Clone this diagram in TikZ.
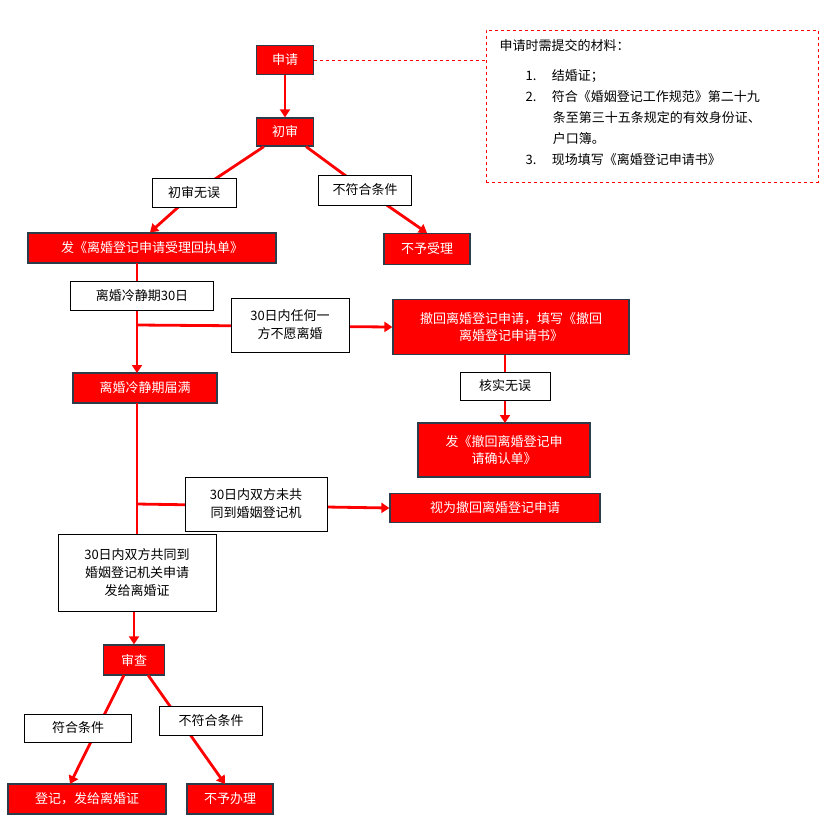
\documentclass[tikz,border=0pt]{standalone}
\usepackage{fontspec}
\setmainfont{Noto Sans CJK SC}
\usetikzlibrary{arrows.meta}
\definecolor{rd}{RGB}{255,0,0}
\definecolor{bd}{RGB}{45,60,75}
\begin{document}
\begin{tikzpicture}[x=1pt,y=-1pt,
 rb/.style={draw=bd,line width=1.2pt,fill=rd,text=white,font=\fontsize{13}{17}\selectfont,inner sep=0pt,align=center},
 wb/.style={draw=black,line width=0.8pt,fill=white,font=\fontsize{13}{18}\selectfont,inner sep=0pt,align=center},
 ln/.style={draw=rd,line width=2.8pt},
 ar/.style={ln,-{Triangle[length=8pt,width=10pt]}}]
\useasboundingbox (0,0) rectangle (827,823);
\node[rb,minimum width=57,minimum height=29] (sq) at (285,60) {申请};
\node[rb,minimum width=57,minimum height=28] (cs) at (285,132) {初审};
\node[rb,minimum width=248,minimum height=30] (hz) at (152,248) {发《离婚登记申请受理回执单》};
\node[rb,minimum width=86,minimum height=31] (bysl) at (427,249) {不予受理};
\node[draw=rd,dashed,line width=1pt,minimum width=332,minimum height=152] (mat) at (652,106) {};
\node[anchor=north west,font=\fontsize{13}{16}\selectfont,align=left] (mt) at (496,36) {申请时需提交的材料：};
\node[anchor=north west,font=\fontsize{13}{21}\selectfont,align=left] (ml) at (522,66) {%
1.\hspace{1.2em}结婚证；\\
2.\hspace{1.2em}符合《婚姻登记工作规范》第二十九\\
\hspace*{2.1em}条至第三十五条规定的有效身份证、\\
\hspace*{2.1em}户口簿。\\
3.\hspace{1.2em}现场填写《离婚登记申请书》};
\draw[draw=rd,dashed,line width=1pt] (sq.east) -- (mat.west |- sq.east);
\draw[ar] (sq.south) -- (cs.north);
\draw[ln] (cs.south west) ++(8,0) coordinate (c1) -- (194,193);
\draw[ar] (194,193) -- (hz.north -| 150,0);
\draw[ln] (cs.south east) ++(-8,0) coordinate (c2) -- (365,190);
\draw[ar] (365,190) -- (bysl.north);
\node[wb,minimum width=84,minimum height=29] (wu) at (194,193) {初审无误};
\node[wb,minimum width=93,minimum height=30] (bf) at (365,190) {不符合条件};
\coordinate (s0) at (137,263);
\node[rb,minimum width=144,minimum height=30] (jm) at (145,388) {离婚冷静期届满};
\draw[ar] (s0) -- (137,373);
\node[wb,minimum width=143,minimum height=29] (lj) at (142,296) {离婚冷静期30日};
\node[rb,minimum width=236,minimum height=55] (ch) at (511,327) {撤回离婚登记申请，填写《撤回\\离婚登记申请书》};
\draw[ar] (137,325) -- (ch.west);
\node[wb,minimum width=118,minimum height=54] (ry) at (290,325) {30日内任何一\\方不愿离婚};
\node[rb,minimum width=172,minimum height=54] (qr) at (504,450) {发《撤回离婚登记申\\请确认单》};
\draw[ar] (505,355) -- (505,423);
\node[wb,minimum width=90,minimum height=28] (hs) at (505,386) {核实无误};
\node[wb,minimum width=158,minimum height=77] (gt) at (137,573) {30日内双方共同到\\婚姻登记机关申请\\发给离婚证};
\draw[ln] (137,403) -- (gt.north);
\node[rb,minimum width=210,minimum height=29] (st) at (495,508) {视为撤回离婚登记申请};
\draw[ar] (137,504) -- (st.west);
\node[wb,minimum width=142,minimum height=54] (wg) at (256,504) {30日内双方未共\\同到婚姻登记机};
\node[rb,minimum width=61,minimum height=30] (sc) at (134,660) {审查};
\draw[ar] (gt.south -| 134,0) -- (sc.north);
\node[rb,minimum width=158,minimum height=30] (dj) at (87,799) {登记，发给离婚证};
\node[rb,minimum width=86,minimum height=30] (bb) at (230,799) {不予办理};
\draw[ar] (124,675) -- (70,784);
\draw[ar] (148,675) -- (225,784);
\node[wb,minimum width=107,minimum height=28] (fh) at (78,728) {符合条件};
\node[wb,minimum width=103,minimum height=29] (bf2) at (211,721) {不符合条件};
\end{tikzpicture}
\end{document}
